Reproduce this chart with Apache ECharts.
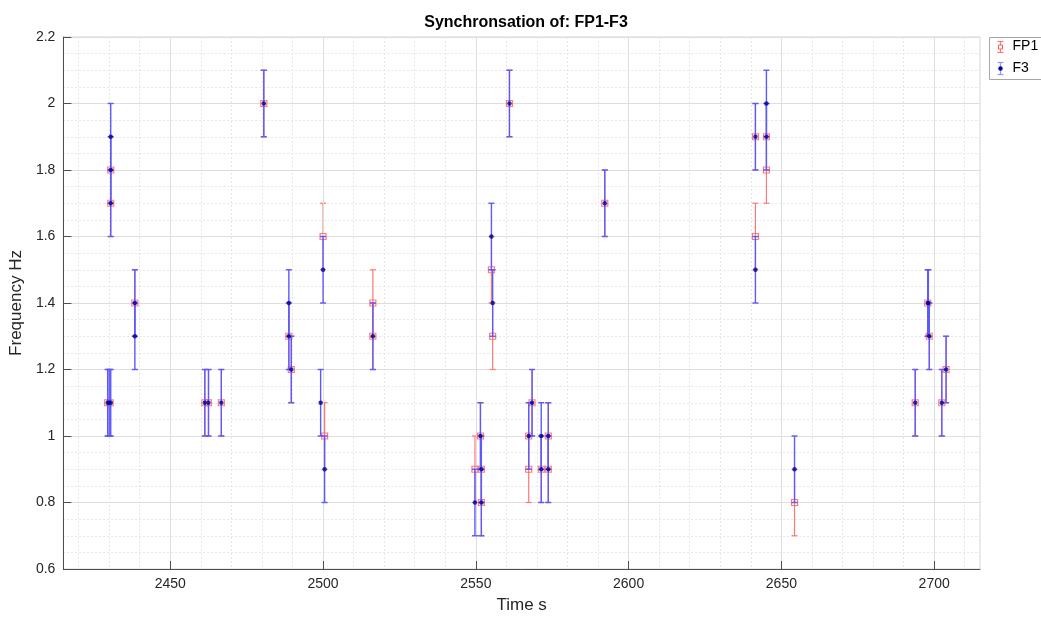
<!DOCTYPE html>
<html>
<head>
<meta charset="utf-8">
<title>Synchronsation of: FP1-F3</title>
<script src="https://cdn.jsdelivr.net/npm/echarts@6/dist/echarts.min.js"></script>
<style>
  html, body { margin: 0; padding: 0; background: #ffffff; }
  #chart { width: 1041px; height: 619px; }
</style>
</head>
<body>
<div id="chart"></div>
<script>
// FP1 channel: time (s), frequency (Hz), error half-width (Hz)
const fp1Time = [2429.5, 2430.3, 2430.5, 2430.5, 2438.4, 2461.3, 2462.5, 2466.7, 2480.6, 2488.8,
                 2489.6, 2500.0, 2500.5, 2516.3, 2516.3, 2549.7, 2551.5, 2551.8, 2551.8, 2555.1,
                 2555.5, 2561.0, 2567.3, 2567.3, 2568.4, 2571.4, 2573.7, 2573.7, 2592.2, 2641.5,
                 2641.5, 2645.1, 2645.1, 2654.3, 2693.8, 2697.9, 2698.4, 2702.5, 2703.9];
const fp1Freq = [1.1, 1.1, 1.8, 1.7, 1.4, 1.1, 1.1, 1.1, 2.0, 1.3,
                 1.2, 1.6, 1.0, 1.4, 1.3, 0.9, 1.0, 0.9, 0.8, 1.5,
                 1.3, 2.0, 1.0, 0.9, 1.1, 0.9, 1.0, 0.9, 1.7, 1.9,
                 1.6, 1.9, 1.8, 0.8, 1.1, 1.4, 1.3, 1.1, 1.2];
const fp1Err  = [0.1, 0.1, 0.1, 0.1, 0.1, 0.1, 0.1, 0.1, 0.1, 0.1,
                 0.1, 0.1, 0.1, 0.1, 0.1, 0.1, 0.1, 0.1, 0.1, 0.1,
                 0.1, 0.1, 0.1, 0.1, 0.1, 0.1, 0.1, 0.1, 0.1, 0.1,
                 0.1, 0.1, 0.1, 0.1, 0.1, 0.1, 0.1, 0.1, 0.1];

// F3 channel: time (s), frequency (Hz), error half-width (Hz)
const f3Time = [2429.5, 2430.0, 2430.5, 2430.5, 2430.5, 2430.5, 2438.4, 2438.4, 2461.3, 2462.5,
                2466.7, 2480.6, 2488.8, 2488.8, 2489.6, 2499.2, 2500.0, 2500.5, 2516.3, 2549.7,
                2551.5, 2551.8, 2551.8, 2555.1, 2555.5, 2561.0, 2567.3, 2568.4, 2571.4, 2571.4,
                2573.7, 2573.7, 2592.2, 2641.5, 2641.5, 2645.1, 2645.1, 2654.3, 2693.8, 2697.9,
                2698.1, 2698.4, 2702.5, 2703.9];
const f3Freq = [1.1, 1.1, 1.1, 1.9, 1.8, 1.7, 1.4, 1.3, 1.1, 1.1,
                1.1, 2.0, 1.4, 1.3, 1.2, 1.1, 1.5, 0.9, 1.3, 0.8,
                1.0, 0.9, 0.8, 1.6, 1.4, 2.0, 1.0, 1.1, 1.0, 0.9,
                1.0, 0.9, 1.7, 1.9, 1.5, 2.0, 1.9, 0.9, 1.1, 1.4,
                1.4, 1.3, 1.1, 1.2];
const f3Err  = [0.1, 0.1, 0.1, 0.1, 0.1, 0.1, 0.1, 0.1, 0.1, 0.1,
                0.1, 0.1, 0.1, 0.1, 0.1, 0.1, 0.1, 0.1, 0.1, 0.1,
                0.1, 0.1, 0.1, 0.1, 0.1, 0.1, 0.1, 0.1, 0.1, 0.1,
                0.1, 0.1, 0.1, 0.1, 0.1, 0.1, 0.1, 0.1, 0.1, 0.1,
                0.1, 0.1, 0.1, 0.1];

// Axis ranges and tick positions
const xRange = [2415, 2715];
const xMajorTicks = [2450, 2500, 2550, 2600, 2650, 2700];
const xMinorTicks = [2420, 2430, 2440, 2450, 2460, 2470, 2480, 2490, 2500, 2510, 2520, 2530, 2540,
                     2550, 2560, 2570, 2580, 2590, 2600, 2610, 2620, 2630, 2640, 2650, 2660, 2670,
                     2680, 2690, 2700, 2710];
const yRange = [0.6, 2.2];
const yStep = 0.2;

const FONT = '"Liberation Sans", Arial, Helvetica, sans-serif';
const TEXT = '#262626';
const FP1_BAR = 'rgb(255, 120, 120)';
const F3_BAR = 'rgb(90, 90, 255)';
const F3_DOT = '#00009a';

function rows(t, f, e) {
  return t.map((v, i) => [v, f[i], e[i]]);
}

// Vertical error bar with short caps, drawn from (t, f - e) to (t, f + e)
function errorBar(color, width) {
  return function (params, api) {
    const t = api.value(0), f = api.value(1), e = api.value(2);
    const lo = api.coord([t, f - e]);
    const hi = api.coord([t, f + e]);
    const cap = 3;
    const style = { stroke: color, lineWidth: width, fill: null };
    return {
      type: 'group',
      children: [
        { type: 'line', shape: { x1: lo[0], y1: lo[1], x2: hi[0], y2: hi[1] }, style: style },
        { type: 'line', shape: { x1: lo[0] - cap, y1: lo[1], x2: lo[0] + cap, y2: lo[1] }, style: style },
        { type: 'line', shape: { x1: hi[0] - cap, y1: hi[1], x2: hi[0] + cap, y2: hi[1] }, style: style }
      ]
    };
  };
}

const fp1Rows = rows(fp1Time, fp1Freq, fp1Err);
const f3Rows = rows(f3Time, f3Freq, f3Err);

const chart = echarts.init(document.getElementById('chart'), null, { renderer: 'canvas' });

chart.setOption({
  animation: false,
  backgroundColor: '#ffffff',
  textStyle: { fontFamily: FONT },
  title: {
    text: 'Synchronsation of: FP1-F3',
    left: 521,
    textAlign: 'center',
    top: 10,
    textStyle: { fontFamily: FONT, fontSize: 16, fontWeight: 'bold', color: '#000000' }
  },
  grid: {
    left: 62.5, right: 61, top: 37, bottom: 48,
    show: true, borderColor: '#d6d6d6', borderWidth: 1, backgroundColor: 'transparent'
  },
  xAxis: [
    {
      type: 'value',
      min: xRange[0], max: xRange[1],
      name: 'Time s',
      nameLocation: 'middle',
      nameGap: 28,
      nameTextStyle: { fontFamily: FONT, fontSize: 17, color: TEXT },
      axisLine: { show: true, onZero: false, lineStyle: { color: '#4d4d4d', width: 1 } },
      axisTick: { show: true, inside: true, length: 8, customValues: xMajorTicks, lineStyle: { color: '#4d4d4d' } },
      axisLabel: {
        customValues: xMajorTicks, margin: 8, fontFamily: FONT, fontSize: 14, color: TEXT,
        formatter: (v) => String(v)
      },
      splitLine: { show: true, lineStyle: { color: '#dedede', width: 1, type: 'solid' } },
      z: 3
    },
    {
      type: 'value',
      min: xRange[0], max: xRange[1],
      position: 'bottom',
      axisLine: { show: false },
      axisTick: { show: false, customValues: xMinorTicks },
      axisLabel: { show: false, customValues: xMinorTicks },
      splitLine: { show: true, lineStyle: { color: '#e6e6e6', width: 1, type: [2, 2] } },
      z: 1
    }
  ],
  yAxis: {
    type: 'value',
    min: yRange[0], max: yRange[1], interval: yStep,
    name: 'Frequency Hz',
    nameLocation: 'middle',
    nameGap: 36,
    nameTextStyle: { fontFamily: FONT, fontSize: 17, color: TEXT },
    axisLine: { show: true, onZero: false, lineStyle: { color: '#4d4d4d', width: 1 } },
    axisTick: { show: true, inside: true, length: 8, lineStyle: { color: '#4d4d4d' } },
    axisLabel: { margin: 8, fontFamily: FONT, fontSize: 14, color: TEXT },
    splitLine: { show: true, lineStyle: { color: '#dedede', width: 1 } },
    minorTick: { show: false, splitNumber: 4 },
    minorSplitLine: { show: true, lineStyle: { color: '#e6e6e6', width: 1, type: [2, 2] } }
  },
  series: [
    {
      name: 'FP1 error',
      type: 'custom',
      xAxisIndex: 0,
      renderItem: errorBar(FP1_BAR, 1.2),
      encode: { x: 0, y: 1 },
      data: fp1Rows,
      z: 2
    },
    {
      name: 'FP1',
      type: 'scatter',
      xAxisIndex: 0,
      data: fp1Rows,
      encode: { x: 0, y: 1 },
      symbol: 'rect',
      symbolSize: 6,
      itemStyle: { color: 'rgba(255,255,255,0)', borderColor: 'rgb(255,90,90)', borderWidth: 1.2 },
      z: 3
    },
    {
      name: 'F3 error',
      type: 'custom',
      xAxisIndex: 0,
      renderItem: errorBar(F3_BAR, 1.4),
      encode: { x: 0, y: 1 },
      data: f3Rows,
      z: 4
    },
    {
      name: 'F3',
      type: 'scatter',
      xAxisIndex: 0,
      data: f3Rows,
      encode: { x: 0, y: 1 },
      symbol: 'circle',
      symbolSize: 4.5,
      itemStyle: { color: F3_DOT },
      z: 5
    }
  ],
  graphic: [
    {
      type: 'group',
      left: 989,
      top: 37,
      children: [
        { type: 'rect', shape: { x: 0, y: 0, width: 60, height: 42 },
          style: { fill: '#ffffff', stroke: '#a6a6a6', lineWidth: 1 } },
        // FP1 key: red bar with caps and an open square
        { type: 'line', shape: { x1: 11, y1: 4, x2: 11, y2: 15 }, style: { stroke: FP1_BAR, lineWidth: 1.2 } },
        { type: 'line', shape: { x1: 8, y1: 4, x2: 14, y2: 4 }, style: { stroke: FP1_BAR, lineWidth: 1.2 } },
        { type: 'line', shape: { x1: 8, y1: 15, x2: 14, y2: 15 }, style: { stroke: FP1_BAR, lineWidth: 1.2 } },
        { type: 'rect', shape: { x: 9, y: 7.5, width: 4, height: 4 },
          style: { fill: '#ffffff', stroke: 'rgb(255,90,90)', lineWidth: 1 } },
        { type: 'text', x: 23, y: 9, style: { text: 'FP1', font: '14px ' + FONT, fill: '#000000', verticalAlign: 'middle' } },
        // F3 key: blue bar with caps and a filled dot
        { type: 'line', shape: { x1: 11, y1: 25, x2: 11, y2: 37 }, style: { stroke: 'rgb(150,150,255)', lineWidth: 1.2 } },
        { type: 'line', shape: { x1: 8, y1: 25, x2: 14, y2: 25 }, style: { stroke: 'rgb(150,150,255)', lineWidth: 1.2 } },
        { type: 'line', shape: { x1: 8, y1: 37, x2: 14, y2: 37 }, style: { stroke: 'rgb(150,150,255)', lineWidth: 1.2 } },
        { type: 'circle', shape: { cx: 11, cy: 31, r: 2.2 }, style: { fill: F3_DOT } },
        { type: 'text', x: 23, y: 31, style: { text: 'F3', font: '14px ' + FONT, fill: '#000000', verticalAlign: 'middle' } }
      ]
    }
  ]
});
</script>
</body>
</html>
